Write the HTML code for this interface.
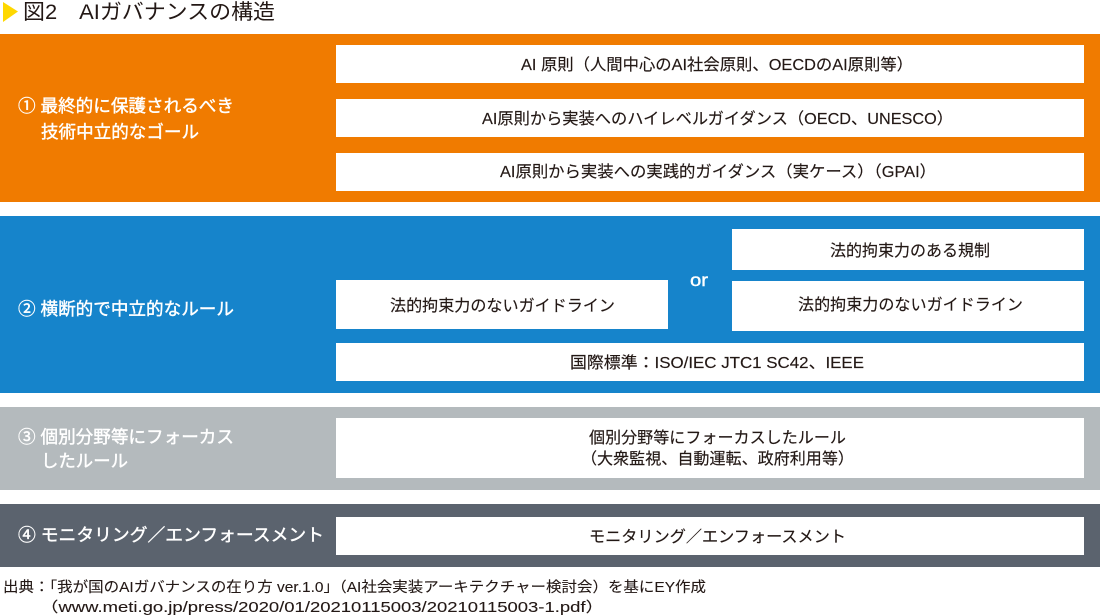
<!DOCTYPE html>
<html lang="ja">
<head>
<meta charset="utf-8">
<title>図2 AIガバナンスの構造</title>
<style>
html,body{margin:0;padding:0;background:#fff;width:1100px;height:616px;overflow:hidden}
svg{display:block}
text{font-family:"Liberation Sans","Noto Sans CJK JP",sans-serif;dominant-baseline:auto}
.d{fill:#231815;font-size:16px;stroke:#231815;stroke-width:.15px}
.c{fill:#fff;font-size:17.5px;stroke:#fff;stroke-width:.4px}
.f{fill:#231815;font-size:14.5px;stroke:#231815;stroke-width:.1px}
</style>
</head>
<body>
<svg width="1100" height="616" viewBox="0 0 1100 616" xmlns="http://www.w3.org/2000/svg">
<rect width="1100" height="616" fill="#fff"/>
<polygon points="3,2 18,11.5 3,22" fill="#ffd800"/>
<text x="23" y="19" style="fill:#231815;font-size:21px" textLength="252" lengthAdjust="spacingAndGlyphs">図2　AIガバナンスの構造</text>

<rect x="0" y="34" width="1100" height="168" fill="#f07b00"/>
<rect x="0" y="216" width="1100" height="177" fill="#1684cb"/>
<rect x="0" y="407" width="1100" height="83" fill="#b4babd"/>
<rect x="0" y="504" width="1100" height="63" fill="#5b636e"/>

<g fill="#fff">
<rect x="336" y="45" width="748" height="38"/>
<rect x="336" y="99" width="748" height="38"/>
<rect x="336" y="153" width="748" height="38"/>
<rect x="732" y="229" width="352" height="41"/>
<rect x="732" y="281" width="352" height="50"/>
<rect x="336" y="280" width="332" height="49"/>
<rect x="336" y="343" width="748" height="38"/>
<rect x="336" y="418" width="748" height="60"/>
<rect x="336" y="517" width="748" height="38"/>
</g>

<text class="c" x="18" y="112" textLength="216" lengthAdjust="spacingAndGlyphs">① 最終的に保護されるべき</text>
<text class="c" x="41" y="138" textLength="158" lengthAdjust="spacingAndGlyphs">技術中立的なゴール</text>
<text class="c" x="18" y="315" textLength="216" lengthAdjust="spacingAndGlyphs">② 横断的で中立的なルール</text>
<text class="c" x="18" y="443" textLength="216" lengthAdjust="spacingAndGlyphs">③ 個別分野等にフォーカス</text>
<text class="c" x="41" y="467" textLength="87" lengthAdjust="spacingAndGlyphs">したルール</text>
<text class="c" x="18" y="541" textLength="306" lengthAdjust="spacingAndGlyphs">④ モニタリング／エンフォースメント</text>
<text class="c" x="690" y="286" textLength="18" lengthAdjust="spacingAndGlyphs">or</text>

<text class="d" x="521" y="70" textLength="392" lengthAdjust="spacingAndGlyphs">AI 原則（人間中心のAI社会原則、OECDのAI原則等）</text>
<text class="d" x="482" y="124" textLength="471" lengthAdjust="spacingAndGlyphs">AI原則から実装へのハイレベルガイダンス（OECD、UNESCO）</text>
<text class="d" x="500" y="177" textLength="436" lengthAdjust="spacingAndGlyphs">AI原則から実装への実践的ガイダンス（実ケース）（GPAI）</text>
<text class="d" x="830" y="256" textLength="160" lengthAdjust="spacingAndGlyphs">法的拘束力のある規制</text>
<text class="d" x="798" y="310" textLength="225" lengthAdjust="spacingAndGlyphs">法的拘束力のないガイドライン</text>
<text class="d" x="390" y="311" textLength="225" lengthAdjust="spacingAndGlyphs">法的拘束力のないガイドライン</text>
<text class="d" x="570" y="368" textLength="294" lengthAdjust="spacingAndGlyphs">国際標準：ISO/IEC JTC1 SC42、IEEE</text>
<text class="d" x="589" y="443" textLength="257" lengthAdjust="spacingAndGlyphs">個別分野等にフォーカスしたルール</text>
<text class="d" x="581" y="464" textLength="273" lengthAdjust="spacingAndGlyphs">（大衆監視、自動運転、政府利用等）</text>
<text class="d" x="589" y="542" textLength="257" lengthAdjust="spacingAndGlyphs">モニタリング／エンフォースメント</text>

<text class="f" x="3" y="592" textLength="703" lengthAdjust="spacingAndGlyphs">出典：「我が国のAIガバナンスの在り方 ver.1.0」（AI社会実装アーキテクチャー検討会）を基にEY作成</text>
<text class="f" x="40" y="612" textLength="564" lengthAdjust="spacingAndGlyphs">（www.meti.go.jp/press/2020/01/20210115003/20210115003-1.pdf）</text>
</svg>
</body>
</html>
